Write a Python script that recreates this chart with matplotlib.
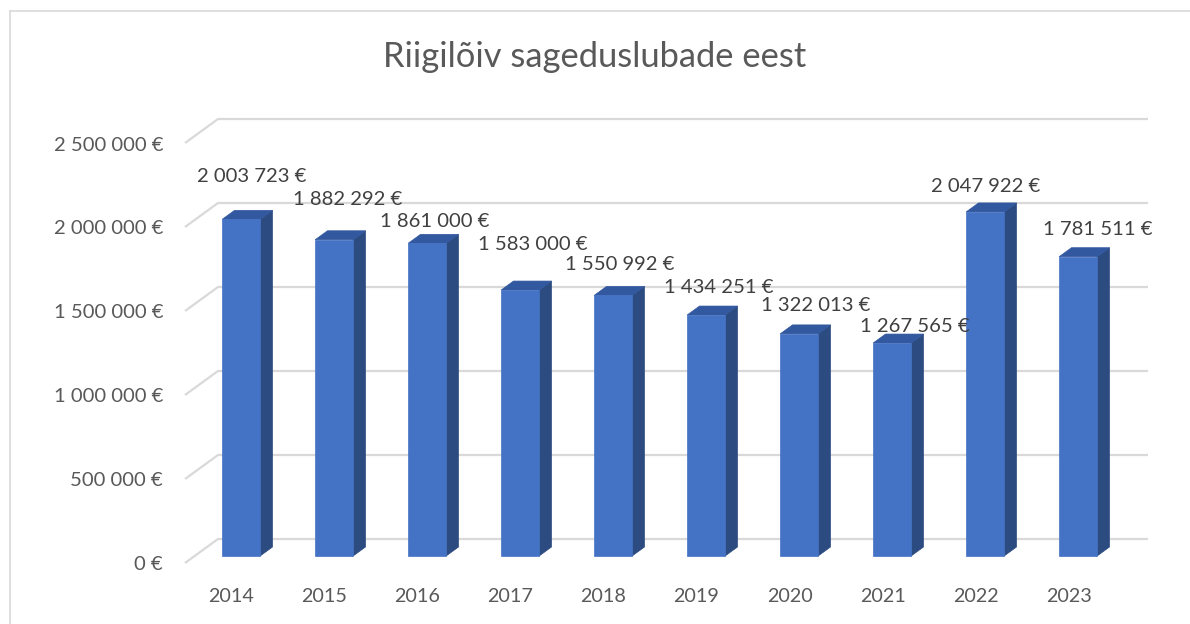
import matplotlib
matplotlib.use("Agg")
import matplotlib.pyplot as plt
from matplotlib.patches import Polygon, Rectangle
from matplotlib.lines import Line2D

# ---- data ----
years = ["2014", "2015", "2016", "2017", "2018", "2019", "2020", "2021", "2022", "2023"]
fees = [2003723, 1882292, 1861000, 1583000, 1550992, 1434251, 1322013, 1267565, 2047922, 1781511]
y_ticks = [0, 500000, 1000000, 1500000, 2000000, 2500000]
title = "Riigilõiv sageduslubade eest"

# label nudges (pixels) relative to the back-top centre of each bar
label_dx = [-1.5, 1.5, -4.5, 0.5, -5.5, 0.5, 4.5, 10.5, -12, 7.5]
label_dy = [33.4, 30.8, 12.4, 36.1, 22.4, 19.0, 19.9, 7.1, 16.0, 18.7]


def fmt(v):
    return f"{v:,}".replace(",", " ") + " €"


W, H, DPI = 1190, 624, 100
fig = plt.figure(figsize=(W / DPI, H / DPI), dpi=DPI)
ax = fig.add_axes([0, 0, 1, 1])
ax.set_axis_off()

# pixel geometry of the Excel-like 3D plot area
px_cat = 93.0          # pixels per category
x_front0 = 231.5       # pixel x of first category centre on the front plane
px_per_val = 168.0 / 1e6
y_front0 = 563.0       # pixel y (from top) of value 0 on the front plane
ax.set_xlim((0 - x_front0) / px_cat, (W - x_front0) / px_cat)
ax.set_ylim((y_front0 - H) / px_per_val, (y_front0 - 0) / px_per_val)

depth_dx = 33.0 / px_cat          # depth shift, category units
depth_dy = 24.0 / px_per_val      # depth shift, value units
f_front = 7.0 / 24.0
f_back = 16.0 / 24.0
g = f_back - f_front
bar_w = 38.0 / px_cat

grid_c = "#D9D9D9"
n = len(years)
for v in y_ticks:
    xs = [-0.5, -0.5 + depth_dx, n - 0.5 + depth_dx]
    ys = [v, v + depth_dy, v + depth_dy]
    ax.plot(xs, ys, color=grid_c, lw=1.6, solid_capstyle="butt", zorder=1)
    ax.text(-0.5 - 22 / px_cat, v - 2 / px_per_val, fmt(v), ha="right", va="center",
            fontsize=14.6, color="#595959", family="Lato")

front_c = "#4472C4"
side_c = "#2C4B80"
top_c = "#3258A0"
for i, (yr, v) in enumerate(zip(years, fees)):
    x0 = i - bar_w / 2 + f_front * depth_dx
    y0 = f_front * depth_dy
    ox, oy = g * depth_dx, g * depth_dy
    ax.add_patch(Polygon([(x0 + bar_w, y0), (x0 + bar_w + ox, y0 + oy),
                          (x0 + bar_w + ox, y0 + oy + v), (x0 + bar_w, y0 + v)],
                         closed=True, fc=side_c, ec=side_c, lw=0.5, zorder=3))
    ax.add_patch(Polygon([(x0, y0 + v), (x0 + bar_w, y0 + v),
                          (x0 + bar_w + ox, y0 + v + oy), (x0 + ox, y0 + v + oy)],
                         closed=True, fc=top_c, ec=top_c, lw=0.5, zorder=3))
    ax.add_patch(Rectangle((x0, y0), bar_w, v, fc=front_c, ec=front_c, lw=0.5, zorder=4))
    # value label near back-top centre
    bx = i + f_back * depth_dx
    by = v + f_back * depth_dy
    ax.annotate(fmt(v), (bx, by), xytext=(label_dx[i], label_dy[i]),
                textcoords="offset pixels", ha="center", va="center",
                fontsize=14.6, color="#404040", family="Lato", zorder=6)
    # category label
    ax.text(i, -33 / px_per_val, yr, ha="center", va="center",
            fontsize=14.2, color="#595959", family="Lato")

ax.text(0.5, 1 - 57 / H, title, transform=fig.transFigure, ha="center", va="center",
        fontsize=24.8, color="#595959", family="Lato")

# chart frame (left and top edges)
fig.add_artist(Line2D([10 / W, 10 / W], [0, 1 - 11 / H], transform=fig.transFigure,
                      color="#D9D9D9", lw=1.2))
fig.add_artist(Line2D([10 / W, 1], [1 - 11 / H, 1 - 11 / H], transform=fig.transFigure,
                      color="#D9D9D9", lw=1.2))

fig.savefig("out.png", dpi=DPI)
